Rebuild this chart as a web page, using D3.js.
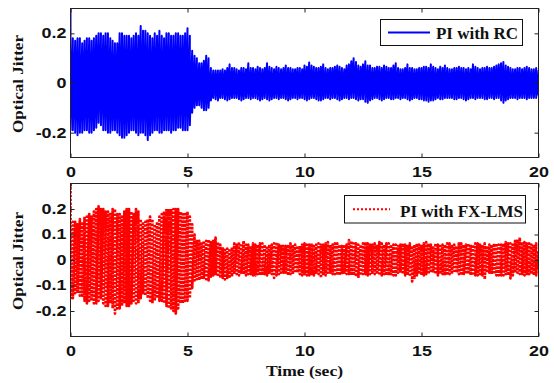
<!DOCTYPE html>
<html><head><meta charset="utf-8">
<script src="https://cdn.jsdelivr.net/npm/d3@7/dist/d3.min.js"></script>
<style>body{margin:0;background:#fff}svg{display:block}</style>
</head><body>
<svg id="chart" width="554" height="383"></svg>
<script>
// ---- data: upper / lower extremes of the jitter every 0.1 s ----
const timeSec = d3.range(0, 201).map(i => +(i * 0.1).toFixed(1));
const rcUpper = [
 .30,.18,.17,.18,.18,.16,.17,.18,.18,.17,
 .18,.19,.20,.20,.19,.20,.20,.18,.17,.16,
 .16,.20,.20,.19,.19,.19,.18,.19,.20,.19,
 .23,.21,.21,.20,.19,.18,.20,.19,.21,.19,
 .18,.20,.20,.19,.19,.20,.20,.19,.19,.20,
 .22,.19,.13,.11,.10,.08,.08,.09,.11,.10,
 .06,.05,.05,.05,.05,.055,.05,.06,.075,.06,
 .06,.055,.05,.06,.06,.055,.08,.06,.06,.055,
 .065,.06,.055,.06,.08,.065,.06,.055,.065,.06,
 .055,.06,.07,.06,.06,.055,.055,.06,.06,.055,
 .07,.065,.083,.07,.065,.06,.06,.065,.075,.06,
 .055,.06,.06,.065,.07,.065,.06,.055,.07,.075,
 .088,.10,.085,.07,.065,.075,.088,.07,.07,.06,
 .06,.065,.065,.06,.07,.065,.06,.06,.07,.08,
 .06,.055,.055,.06,.075,.06,.06,.055,.055,.06,
 .06,.065,.065,.06,.075,.065,.06,.055,.065,.06,
 .07,.06,.055,.055,.06,.06,.065,.06,.06,.055,
 .06,.055,.075,.065,.06,.055,.06,.06,.065,.06,
 .06,.065,.07,.075,.08,.085,.07,.065,.06,.055,
 .055,.06,.06,.055,.06,.065,.06,.055,.055,.06,
 .05];
const rcLower = [
 -.19,-.19,-.20,-.21,-.20,-.20,-.19,-.19,-.20,-.20,
 -.19,-.18,-.16,-.17,-.19,-.19,-.20,-.20,-.19,-.19,
 -.20,-.21,-.22,-.22,-.21,-.20,-.19,-.19,-.20,-.21,
 -.20,-.20,-.21,-.23,-.21,-.20,-.19,-.19,-.20,-.20,
 -.19,-.19,-.19,-.20,-.19,-.19,-.18,-.18,-.19,-.19,
 -.19,-.17,-.12,-.10,-.09,-.09,-.10,-.11,-.11,-.10,
 -.07,-.06,-.065,-.07,-.06,-.06,-.065,-.07,-.065,-.06,
 -.06,-.06,-.065,-.07,-.065,-.06,-.06,-.065,-.06,-.06,
 -.065,-.07,-.065,-.06,-.065,-.07,-.065,-.06,-.06,-.065,
 -.06,-.06,-.065,-.07,-.065,-.06,-.06,-.065,-.06,-.06,
 -.065,-.07,-.065,-.06,-.06,-.065,-.07,-.07,-.065,-.06,
 -.06,-.065,-.06,-.06,-.065,-.07,-.065,-.06,-.06,-.065,
 -.06,-.06,-.065,-.07,-.065,-.065,-.075,-.08,-.07,-.065,
 -.06,-.06,-.065,-.07,-.065,-.06,-.06,-.065,-.065,-.06,
 -.06,-.065,-.06,-.06,-.065,-.07,-.065,-.06,-.06,-.065,
 -.065,-.07,-.07,-.075,-.07,-.07,-.065,-.06,-.065,-.065,
 -.06,-.06,-.06,-.06,-.065,-.065,-.06,-.06,-.065,-.07,
 -.065,-.06,-.06,-.065,-.06,-.06,-.06,-.065,-.065,-.06,
 -.06,-.065,-.06,-.06,-.07,-.08,-.07,-.065,-.06,-.06,
 -.06,-.065,-.06,-.06,-.06,-.065,-.06,-.06,-.06,-.06,
 -.05];
const lmsUpper = [
 .30,.15,.15,.14,.16,.15,.17,.17,.18,.17,
 .19,.20,.21,.20,.20,.19,.19,.18,.20,.20,
 .18,.18,.17,.19,.20,.20,.19,.18,.20,.19,
 .16,.15,.15,.16,.17,.16,.14,.15,.17,.18,
 .19,.20,.20,.20,.20,.20,.20,.19,.18,.18,
 .19,.17,.14,.10,.08,.075,.07,.075,.075,.08,
 .07,.075,.088,.07,.06,.05,.04,.045,.045,.05,
 .065,.06,.07,.065,.075,.06,.06,.055,.065,.06,
 .06,.065,.065,.06,.055,.06,.06,.065,.07,.06,
 .06,.055,.055,.06,.065,.06,.06,.055,.055,.06,
 .065,.06,.06,.065,.055,.06,.065,.06,.06,.065,
 .07,.06,.06,.065,.065,.06,.055,.06,.06,.078,
 .075,.065,.065,.06,.06,.065,.07,.065,.06,.06,
 .065,.06,.07,.065,.06,.065,.065,.06,.06,.06,
 .055,.06,.065,.06,.06,.065,.055,.06,.065,.06,
 .06,.065,.07,.065,.06,.055,.065,.06,.055,.06,
 .06,.065,.065,.06,.06,.055,.07,.065,.06,.06,
 .065,.06,.06,.065,.065,.06,.06,.065,.055,.06,
 .06,.065,.065,.06,.06,.065,.07,.065,.065,.06,
 .075,.08,.088,.07,.07,.065,.065,.06,.06,.065,
 .03];
const lmsLower = [
 -.15,-.15,-.13,-.13,-.14,-.14,-.16,-.17,-.16,-.16,
 -.17,-.17,-.16,-.15,-.17,-.18,-.18,-.17,-.19,-.21,
 -.19,-.19,-.18,-.17,-.18,-.18,-.17,-.16,-.17,-.17,
 -.15,-.13,-.14,-.15,-.16,-.17,-.16,-.15,-.16,-.16,
 -.17,-.18,-.19,-.19,-.20,-.21,-.19,-.17,-.17,-.16,
 -.16,-.15,-.11,-.08,-.075,-.08,-.075,-.07,-.075,-.08,
 -.065,-.06,-.06,-.065,-.07,-.07,-.076,-.07,-.065,-.065,
 -.05,-.055,-.06,-.05,-.055,-.06,-.055,-.055,-.06,-.06,
 -.055,-.06,-.06,-.055,-.06,-.05,-.055,-.07,-.06,-.055,
 -.05,-.05,-.055,-.06,-.055,-.055,-.05,-.05,-.055,-.06,
 -.055,-.06,-.06,-.055,-.06,-.05,-.055,-.07,-.06,-.06,
 -.05,-.05,-.055,-.055,-.06,-.06,-.055,-.05,-.055,-.055,
 -.06,-.06,-.065,-.07,-.06,-.055,-.055,-.06,-.055,-.05,
 -.055,-.055,-.06,-.06,-.055,-.06,-.06,-.055,-.06,-.06,
 -.05,-.05,-.055,-.06,-.06,-.065,-.084,-.07,-.06,-.055,
 -.06,-.06,-.055,-.055,-.05,-.05,-.055,-.06,-.055,-.055,
 -.06,-.06,-.055,-.055,-.05,-.05,-.055,-.06,-.06,-.055,
 -.055,-.06,-.06,-.06,-.06,-.055,-.06,-.076,-.05,-.05,
 -.055,-.055,-.06,-.06,-.06,-.06,-.055,-.06,-.072,-.06,
 -.05,-.05,-.055,-.055,-.06,-.06,-.055,-.055,-.06,-.06,
 -.03];
const xTicks = [0, 5, 10, 15, 20];
const rcYTicks = [-0.2, 0, 0.2];
const lmsYTicks = [-0.2, -0.1, 0, 0.1, 0.2];
const yDomain = [-0.3, 0.3];
const xDomain = [0, 20];
const legendRC = "PI with RC";
const legendLMS = "PI with FX-LMS";
const yLabelText = "Optical Jitter";
const xLabelText = "Time (sec)";

// ---- drawing ----
const svg = d3.select("#chart");
const L = 70.5, R = 538.5;
const x = d3.scaleLinear().domain(xDomain).range([L, R]);
const fmt = d => d === 0 ? "0" : String(d);
const SANS = "'Liberation Sans', Arial, sans-serif";
const SERIF = "'Liberation Serif', 'Times New Roman', serif";

function stretch(sel, k) {
  sel.each(function() {
    const w = this.getComputedTextLength();
    d3.select(this).attr("textLength", w * k).attr("lengthAdjust", "spacingAndGlyphs");
  });
}

function panel(opts) {
  const {top, bottom, upper, lower, yTicks, color, dash, width, legend, id, yLabelY} = opts;
  const y = d3.scaleLinear().domain(yDomain).range([bottom, top]);
  const g = svg.append("g");

  g.append("clipPath").attr("id", id).append("rect")
    .attr("x", L).attr("y", top).attr("width", R - L).attr("height", bottom - top);

  // dense oscillation: at each sample go from the upper to the lower extreme
  const pts = timeSec.flatMap((t, i) => [[t, upper[i]], [t, lower[i]]]);
  const line = d3.line().x(d => x(d[0])).y(d => y(d[1]));
  g.append("path").datum(pts)
    .attr("clip-path", `url(#${id})`)
    .attr("fill", "none").attr("stroke", color)
    .attr("stroke-width", width)
    .attr("stroke-linejoin", "round")
    .attr("stroke-dasharray", dash || null)
    .attr("d", line);

  const left = g.append("g").attr("transform", `translate(${L},0)`)
    .call(d3.axisLeft(y).tickValues(yTicks).tickSize(-4).tickPadding(4).tickFormat(fmt));
  const right = g.append("g").attr("transform", `translate(${R},0)`)
    .call(d3.axisRight(y).tickValues(yTicks).tickSize(-4).tickFormat(""));
  const bot = g.append("g").attr("transform", `translate(0,${bottom})`)
    .call(d3.axisBottom(x).tickValues(xTicks).tickSize(-4).tickPadding(10).tickFormat(fmt));
  const tp = g.append("g").attr("transform", `translate(0,${top})`)
    .call(d3.axisTop(x).tickValues(xTicks).tickSize(-4).tickFormat(""));
  [left, right, bot, tp].forEach(a => {
    a.select(".domain").remove();
    a.selectAll("line").attr("stroke", "#222");
    a.selectAll("text").attr("font-family", SANS).attr("font-weight", "bold")
      .attr("font-size", 14).attr("fill", "#111");
  });
  stretch(left.selectAll("text"), 1.28);
  stretch(bot.selectAll("text"), 1.28);

  g.append("rect").attr("x", L).attr("y", top).attr("width", R - L).attr("height", bottom - top)
    .attr("fill", "none").attr("stroke", "#222").attr("stroke-width", 1);

  const lg = g.append("g");
  lg.append("rect").attr("x", legend.x0).attr("y", legend.y0)
    .attr("width", legend.x1 - legend.x0).attr("height", legend.y1 - legend.y0)
    .attr("fill", "#fff").attr("stroke", "#111").attr("stroke-width", 1);
  const ly = (legend.y0 + legend.y1) / 2;
  lg.append("line").attr("x1", legend.l0).attr("x2", legend.l1).attr("y1", ly).attr("y2", ly)
    .attr("stroke", color).attr("stroke-width", 2.2).attr("stroke-dasharray", dash ? "2,2" : null);
  lg.append("text").attr("x", legend.tx).attr("y", legend.ty).text(legend.text)
    .attr("font-family", SERIF).attr("font-weight", "bold").attr("font-size", 16)
    .attr("fill", "#111").attr("textLength", legend.tw).attr("lengthAdjust", "spacingAndGlyphs");

  g.append("text").attr("transform", `translate(23,${yLabelY}) rotate(-90)`)
    .attr("text-anchor", "middle").text(yLabelText)
    .attr("font-family", SERIF).attr("font-weight", "bold").attr("font-size", 14)
    .attr("fill", "#111").attr("textLength", 98).attr("lengthAdjust", "spacingAndGlyphs");
}

panel({top: 8.5, bottom: 157.5, upper: rcUpper, lower: rcLower, yTicks: rcYTicks, color: "#0000ff",
  width: 2, id: "clipRC", yLabelY: 84,
  legend: {x0: 380.5, y0: 19.5, x1: 522.5, y1: 45.5, l0: 388, l1: 430, tx: 436, ty: 39, tw: 82, text: legendRC}});
panel({top: 183.5, bottom: 336.5, upper: lmsUpper, lower: lmsLower, yTicks: lmsYTicks, color: "#ff0000",
  width: 2.7, dash: "2.4,1.4", id: "clipLMS", yLabelY: 261,
  legend: {x0: 344.5, y0: 195.5, x1: 525.5, y1: 223, l0: 353, l1: 390, tx: 400, ty: 216.5, tw: 123, text: legendLMS}});

svg.append("text").attr("x", (L + R) / 2).attr("y", 376).attr("text-anchor", "middle")
  .text(xLabelText).attr("font-family", SERIF).attr("font-weight", "bold").attr("font-size", 14)
  .attr("fill", "#111").attr("textLength", 77).attr("lengthAdjust", "spacingAndGlyphs");
</script>
</body></html>
